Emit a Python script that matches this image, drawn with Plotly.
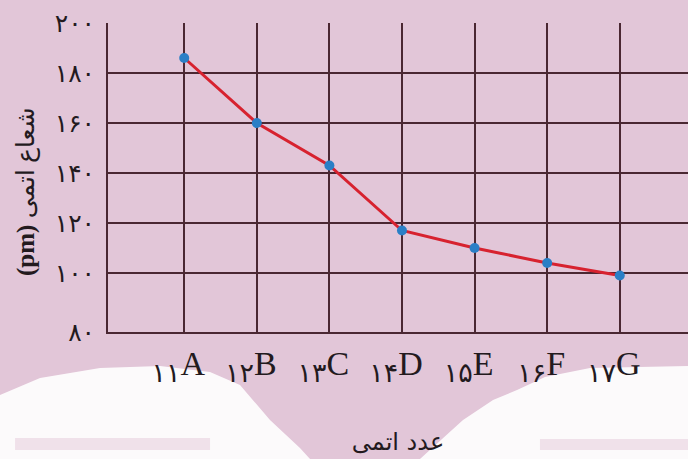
import plotly.graph_objects as go

# Data: atomic number vs. atomic radius (pm)
atomic_numbers = [11, 12, 13, 14, 15, 16, 17]
element_labels = ["A", "B", "C", "D", "E", "F", "G"]
persian_numbers = ["۱۱", "۱۲", "۱۳", "۱۴", "۱۵", "۱۶", "۱۷"]
atomic_radius = [186, 160, 143, 117, 110, 104, 99]

# y axis is cut below 100: the bottom line carries the "80" label
y_tickvals = [76.4, 100, 120, 140, 160, 180, 200]
y_ticktext = ["۸۰", "۱۰۰", "۱۲۰", "۱۴۰", "۱۶۰", "۱۸۰", "۲۰۰"]

BG = "#e2c6d8"
GRID = "#4a2732"
TEXT = "#231a1e"
W, H = 688, 459
L, R, T, B = 108, 0, 23, 127


def px_to_paper(x, y):
    return (x - L) / (W - L - R), (H - B - y) / (H - T - B)


def poly_path(points):
    pts = [px_to_paper(x, y) for x, y in points]
    return "M " + " L ".join(f"{a:.4f},{b:.4f}" for a, b in pts) + " Z"


# white wave decoration at the bottom of the page
left_wave = [(0, 395), (40, 378), (100, 368), (160, 366), (210, 372), (240, 385),
             (270, 420), (300, 448), (310, 459), (0, 459)]
right_wave = [(420, 459), (463, 420), (493, 400), (517, 390), (545, 377), (590, 368),
              (688, 366), (688, 459)]
bands = [[(15, 438), (210, 438), (210, 450), (15, 450)],
         [(540, 439), (688, 439), (688, 450), (540, 450)]]

shapes = []
for wave in (left_wave, right_wave):
    shapes.append(dict(type="path", path=poly_path(wave), xref="paper", yref="paper",
                       fillcolor="white", line=dict(width=0), layer="below", opacity=0.9))
for band in bands:
    shapes.append(dict(type="path", path=poly_path(band), xref="paper", yref="paper",
                       fillcolor="#d9b3cb", line=dict(width=0), layer="below", opacity=0.35))

x_ticktext = [f"<sub><span style='font-size:27px'>{n}</span></sub>{e}"
              for n, e in zip(persian_numbers, element_labels)]

fig = go.Figure()
fig.add_trace(go.Scatter(
    x=atomic_numbers, y=atomic_radius, mode="lines+markers",
    line=dict(color="#d7222f", width=3),
    marker=dict(color="#2a7fc6", size=10),
    showlegend=False, cliponaxis=False,
))

title_x, title_y = px_to_paper(26, 192)
fig.add_annotation(
    text="<b>(pm)</b> شعاع اتمی", textangle=-90,
    xref="paper", yref="paper", x=title_x, y=title_y,
    showarrow=False, xanchor="center", yanchor="middle",
    font=dict(size=25, family="Liberation Serif, DejaVu Sans, serif", color=TEXT),
)

fig.update_layout(
    width=W, height=H,
    margin=dict(l=L, r=R, t=T, b=B, autoexpand=False),
    paper_bgcolor=BG, plot_bgcolor=BG,
    shapes=shapes,
    font=dict(family="Liberation Serif, DejaVu Sans, serif", color=TEXT),
)

fig.update_xaxes(
    range=[9.95, 17.94], automargin=False,
    tickvals=atomic_numbers, ticktext=x_ticktext,
    showgrid=True, gridcolor=GRID, gridwidth=2,
    showline=True, linecolor=GRID, linewidth=2,
    zeroline=False, ticks="", ticklabelshift=-6,
    tickfont=dict(size=34, family="Liberation Serif, DejaVu Sans, serif", color=TEXT),
    title=dict(text="عدد اتمی", standoff=46,
               font=dict(size=24, family="DejaVu Sans, Noto Sans, sans-serif")),
)

fig.update_yaxes(
    range=[76.4, 200], automargin=False,
    tickvals=y_tickvals, ticktext=y_ticktext,
    showgrid=True, gridcolor=GRID, gridwidth=2,
    showline=True, linecolor=GRID, linewidth=2,
    zeroline=False, ticks="", ticklabelstandoff=6,
    tickfont=dict(size=25, family="DejaVu Sans, serif", color=TEXT),
)

# the page body has a default 8px margin; drop it so the chart fills the window
fig.write_html("out.html", config={"displayModeBar": False},
               post_script="document.body.style.margin='0';")
